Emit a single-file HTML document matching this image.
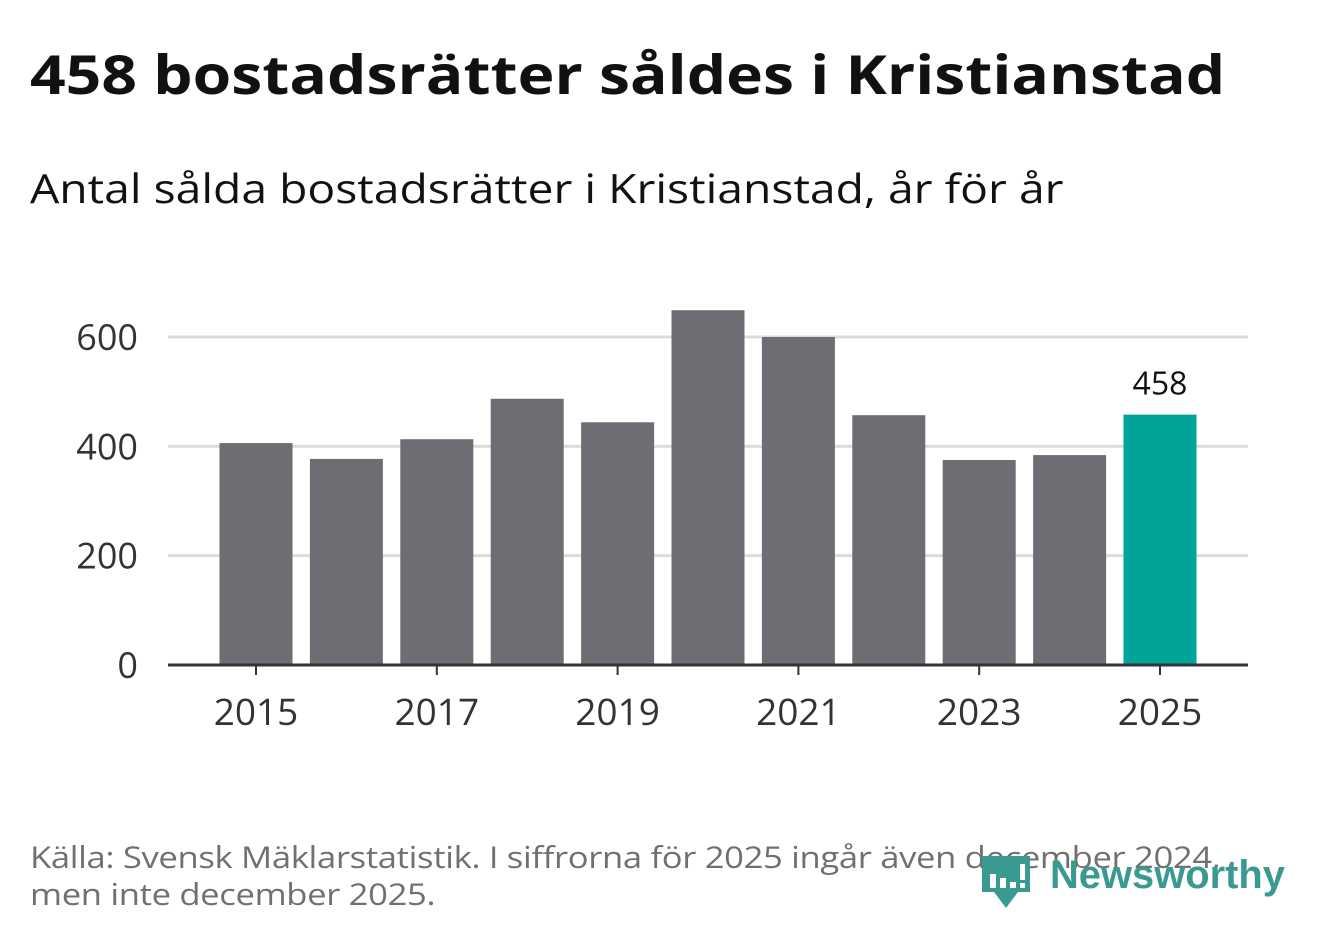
<!DOCTYPE html>
<html><head><meta charset="utf-8"><style>
body{margin:0;width:1322px;height:939px;background:#fff;font-family:"Open Sans","DejaVu Sans","Liberation Sans",sans-serif;overflow:hidden;position:relative}
#title{position:absolute;left:30px;top:36px;font-size:54px;font-weight:bold;color:#111;margin:0;white-space:nowrap;transform:scaleX(1.155);transform-origin:0 0}
#sub{position:absolute;left:30px;top:160px;font-size:40px;color:#111;white-space:nowrap;transform:scaleX(1.157);transform-origin:0 0}
#src{position:absolute;left:30px;top:838px;font-size:30px;color:#707070;line-height:37px;white-space:nowrap;letter-spacing:-0.3px;transform:scaleX(1.154);transform-origin:0 0}
svg{position:absolute;left:0;top:0}
</style></head><body>
<h1 id="title">458 bostadsrätter såldes i Kristianstad</h1>
<div id="sub">Antal sålda bostadsrätter i Kristianstad, år för år</div>
<svg id="chart" width="1322" height="939"></svg>
<div id="src">Källa: Svensk Mäklarstatistik. I siffrorna för 2025 ingår även december 2024,<br>men inte december 2025.</div>
<svg width="1322" height="939" style="pointer-events:none">
<path d="M982 856 h48 v36 h-12 l-12 16 l-12 -16 h-12 z" fill="#3a9a92"/>
<rect x="990" y="874" width="6" height="14" fill="#fff"/><rect x="1000" y="878" width="6" height="10" fill="#fff"/><rect x="1010" y="882" width="6" height="6" fill="#fff"/><rect x="1020" y="864" width="5" height="16" fill="#fff"/><rect x="1020" y="883" width="5" height="5" fill="#fff"/>
<text x="1050" y="888" font-family="Liberation Sans, sans-serif" font-weight="bold" font-size="40" fill="#3a9a92" textLength="235" lengthAdjust="spacingAndGlyphs">Newsworthy</text>
</svg>
<script>
const years=[2015,2016,2017,2018,2019,2020,2021,2022,2023,2024,2025];
const values=[406,377,413,487,444,649,600,457,375,384,458];
const yTicks=[0,200,400,600];
const xTickYears=[2015,2017,2019,2021,2023,2025];
const NS="http://www.w3.org/2000/svg";
const svg=document.getElementById('chart');
const x0=256,step=90.4,bw=73,yBase=665,yScale=(665-337)/600;
const x=i=>x0+i*step;
const y=v=>yBase-v*yScale;
function mk(t,a){const e=document.createElementNS(NS,t);for(const k in a)e.setAttribute(k,a[k]);svg.appendChild(e);return e;}
yTicks.forEach(t=>{
 if(t>0){const g=mk('line',{x1:168,x2:1248,y1:y(t),y2:y(t),stroke:'#dcdcdc','stroke-width':3});
 
 }
 const l=mk('text',{x:138,y:y(t)+13,'text-anchor':'end','font-size':36,fill:'#333'});l.textContent=t;
 
 
});
values.forEach((v,i)=>{
 const r=mk('rect',{x:x(i)-bw/2,y:y(v),width:bw,height:yBase-y(v),fill:years[i]===2025?'#00a397':'#6e6d73'});
 
 
});
const last=values.length-1;
const lab=mk('text',{x:x(last),y:y(values[last])-20,'text-anchor':'middle','font-size':32,fill:'#111'});lab.textContent=values[last];


const ax=mk('line',{x1:168,x2:1248,y1:yBase,y2:yBase,stroke:'#333','stroke-width':3});


xTickYears.forEach(yr=>{
 const i=years.indexOf(yr);
 const tk=mk('line',{x1:x(i),x2:x(i),y1:yBase,y2:yBase+10,stroke:'#333','stroke-width':2});
 
 
 const t=mk('text',{x:x(i),y:725,'text-anchor':'middle','font-size':37,fill:'#333'});t.textContent=yr;
 
 
});
</script>
</body></html>
